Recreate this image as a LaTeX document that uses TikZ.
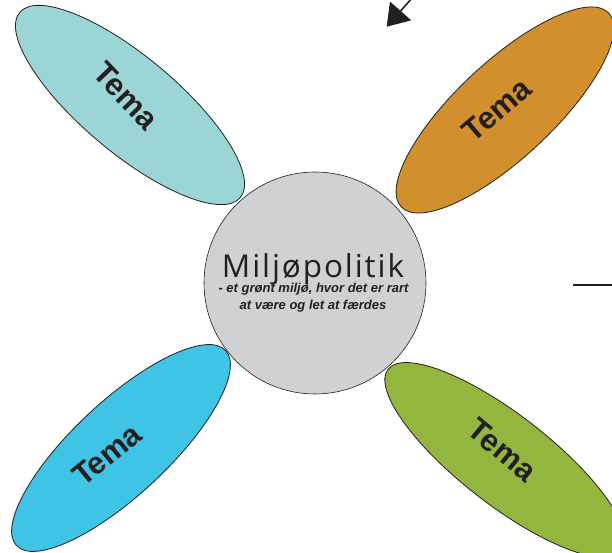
\documentclass[tikz,border=0pt]{standalone}
\usepackage{fontspec}
\setmainfont{Liberation Sans}
\newfontfamily\titlefont[LetterSpace=6]{Open Sans}
\usetikzlibrary{arrows.meta,shapes.geometric}
\definecolor{tealc}{RGB}{155,213,214}
\definecolor{orangec}{RGB}{209,143,46}
\definecolor{bluec}{RGB}{64,196,230}
\definecolor{greenc}{RGB}{147,183,62}
\definecolor{grayc}{RGB}{208,209,211}
\definecolor{inkc}{RGB}{35,31,32}
\begin{document}
\begin{tikzpicture}[x=1pt,y=1pt,
  petal/.style={ellipse, draw=inkc, line width=0.8pt, inner sep=0pt},
  tema/.style={font=\fontsize{31}{31}\selectfont\bfseries, text=inkc, inner sep=0pt},
  hubstyle/.style={circle, draw=inkc, line width=0.6pt, fill=grayc, inner sep=0pt, minimum size=222pt},
  titlestyle/.style={font=\titlefont\fontsize{31.5}{31.5}\selectfont, text=inkc, inner sep=0pt, anchor=base},
  subtitlestyle/.style={font=\fontsize{13}{13}\selectfont\bfseries\itshape, text=inkc, inner sep=0pt, anchor=base},
  pointer/.style={draw=inkc, line width=1.6pt, -{Triangle[length=21pt,width=28pt]}},
  rule/.style={draw=inkc, line width=2pt}]
\useasboundingbox (0,0) rectangle (612,553);
\clip (0,0) rectangle (612,553);
% petals
\node[petal, fill=tealc, minimum width=288pt, minimum height=96pt, rotate=-40] (p1) at (130,448) {};
\node[petal, fill=orangec, minimum width=284pt, minimum height=96pt, rotate=43] (p2) at (505,443) {};
\node[petal, fill=bluec, minimum width=286pt, minimum height=94pt, rotate=43] (p3) at (121,105) {};
\node[petal, fill=greenc, minimum width=296pt, minimum height=90pt, rotate=-37.8] (p4) at (505,93) {};
% hub
\node[hubstyle] (hub) at (315,270) {};
% labels
\node[tema, rotate=-46] (t1) at (126,457) {Tema};
\node[tema, rotate=40.5] (t2) at (497,443) {Tema};
\node[tema, rotate=39] (t3) at (107,98) {Tema};
\node[tema, rotate=-40] (t4) at (502,103) {Tema};
\node[titlestyle] (title) at (313,275.3) {Miljøpolitik};
\node[subtitlestyle] (sub1) at (313.5,260.3) {- et grønt miljø, hvor det er rart};
\node[subtitlestyle] (sub2) at (313,243.7) {at være og let at færdes};
% pointer arrow and rule
\coordinate (arrowstart) at (420,564);
\coordinate (arrowtip) at (386.7,526.3);
\draw[pointer] (arrowstart) -- (arrowtip);
\coordinate (rulestart) at (573,267.5);
\coordinate (ruleend) at (616,267.5);
\draw[rule] (rulestart) -- (ruleend);
\end{tikzpicture}
\end{document}
